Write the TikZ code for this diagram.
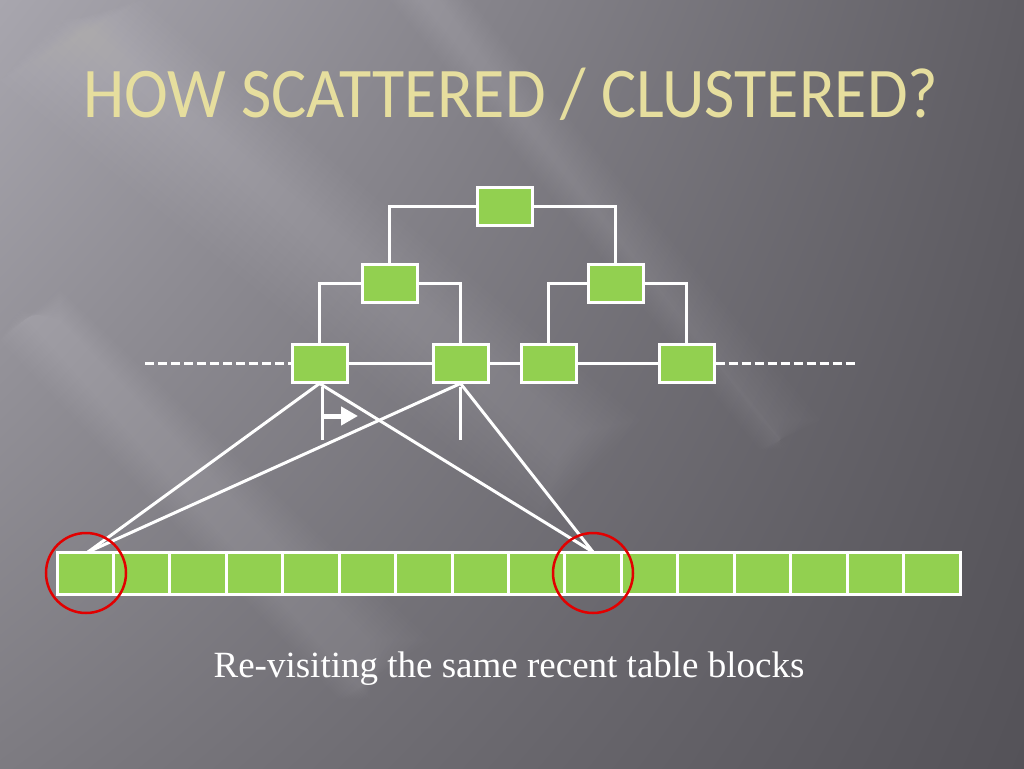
\documentclass[tikz,border=0pt]{standalone}
\usepackage{fontspec}
\setmainfont{Liberation Serif}
\newfontfamily\titlefont{Carlito}
\usetikzlibrary{arrows.meta,positioning,shadings}
\definecolor{bgTL}{RGB}{168,166,174}
\definecolor{bgTR}{RGB}{96,94,100}
\definecolor{bgBL}{RGB}{125,123,129}
\definecolor{bgBR}{RGB}{84,82,88}
\definecolor{leaf}{RGB}{146,208,80}
\definecolor{ring}{RGB}{226,0,0}
\definecolor{titlecol}{RGB}{230,222,158}
\tikzset{
  blk/.style={draw=white, line width=3pt, fill=leaf, minimum width=55pt, minimum height=38pt, inner sep=0pt},
  cell/.style={draw=white, line width=3pt, fill=leaf, minimum width=56.4pt, minimum height=42pt, inner sep=0pt},
  link/.style={draw=white, line width=3pt},
  dashlink/.style={draw=white, line width=3pt, dash pattern=on 9pt off 4pt},
  ringstyle/.style={draw=ring, line width=2.5pt, circle, minimum size=80pt, inner sep=0pt},
  streak/.style={fill=white, opacity=0.012},
}
\begin{document}
\begin{tikzpicture}[x=1pt,y=-1pt]
\useasboundingbox (0,0) rectangle (1024,768);
% background
\shade[upper left=bgTL, upper right=bgTR, lower left=bgBL, lower right=bgBR] (0,0) rectangle (1024,768);
\foreach \w in {0,6,...,60} {
  \fill[streak] ({0+\w},{80-\w}) -- ({140-\w},{0+\w*0.3}) -- ({640-\w},{420+\w*0.2}) -- ({540+\w*0.3},{520-\w}) -- cycle;
  \fill[streak] ({0+\w*0.3},{340-\w*0.5}) -- ({60},{290+\w*0.5}) -- ({430-\w},{640}) -- ({340+\w*0.5},{700}) -- cycle;
  \fill[streak] ({390+\w*0.5},0) -- ({470-\w*0.5},0) -- ({820-\w},{420}) -- ({760+\w*0.5},{450}) -- cycle;
}
% title
\node[text=titlecol, font=\titlefont\fontsize{66}{66}\selectfont, anchor=base, yscale=1.08] (title) at (511,117) {HOW SCATTERED / CLUSTERED?};
% tree
\node[blk] (r) at (504.5,206.5) {};
\node[blk] (a) at (389.5,283) {};
\node[blk] (b) at (615.5,283) {};
\node[blk] (l1) at (319.5,363) {};
\node[blk] (l2) at (460.5,363) {};
\node[blk] (l3) at (548.5,363) {};
\node[blk] (l4) at (686.5,363) {};
\coordinate (dl) at (145,363);
\coordinate (dr) at (858,363);
\draw[link] (r.west) -| (a.north);
\draw[link] (r.east) -| (b.north);
\draw[link] (a.west) -| (l1.north);
\draw[link] (a.east) -| (l2.north);
\draw[link] (b.west) -| (l3.north);
\draw[link] (b.east) -| (l4.north);
\draw[link] (l1.east) -- (l2.west);
\draw[link] (l2.east) -- (l3.west);
\draw[link] (l3.east) -- (l4.west);
\draw[dashlink] (dl) -- (l1.west);
\draw[dashlink] (l4.east) -- (dr);
% table row
\foreach \i in {1,...,16} {
  \node[cell] (c\i) at ({57+56.44*(\i-0.5)},573.5) {};
}
% crossing lines
\coordinate (e1) at (88,552);
\coordinate (e2) at (593,552);
\draw[link] (l1.south) -- (e1);
\draw[link] (l2.south) -- (e1);
\draw[link] (l1.south) -- (e2);
\draw[link] (l2.south) -- (e2);
% markers
\coordinate (m1t) at (322,387);
\coordinate (m1b) at (322,440);
\coordinate (m1a) at (322,416);
\coordinate (m1h) at (358,416);
\coordinate (m2t) at (460,387);
\coordinate (m2b) at (460,440);
\draw[link] (m1t) -- (m1b);
\draw[white, line width=5pt, -{Triangle[length=17pt,width=18pt]}] (m1a) -- (m1h);
\draw[link] (m2t) -- (m2b);
% rings
\node[ringstyle] (ring1) at (86,573) {};
\node[ringstyle] (ring2) at (593,573) {};
% caption
\node[text=white, font=\fontsize{37}{37}\selectfont, anchor=base] (cap) at (509,677) {Re-visiting the same recent table blocks};
\end{tikzpicture}
\end{document}
